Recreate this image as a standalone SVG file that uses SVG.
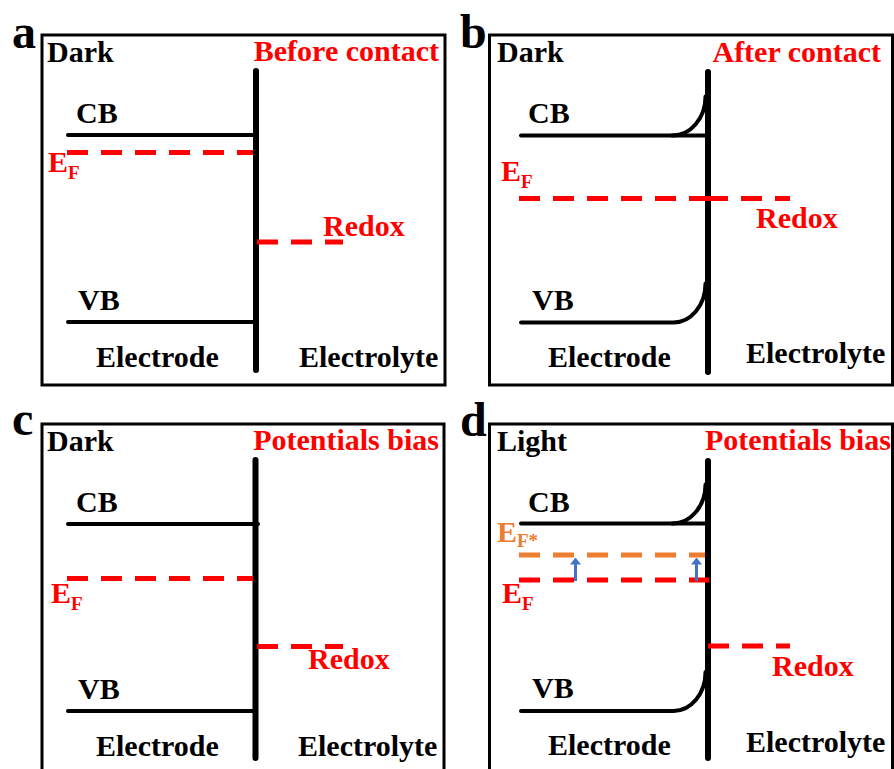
<svg xmlns="http://www.w3.org/2000/svg" width="894" height="769" viewBox="0 0 894 769">
<style>
text{font-weight:bold}
.lbl{font-size:48px;fill:#000}
.t{font-size:30px;fill:#000}
.r{font-size:30px;fill:#FF0000}
.o{font-size:30px;fill:#ED7D31}
.sub{font-size:19px}
.box{fill:none;stroke:#000;stroke-width:3}
.wall{stroke:#000;stroke-width:6;stroke-linecap:round;fill:none}
.band{stroke:#000;stroke-width:4;stroke-linecap:round;fill:none}
.ef{stroke:#FF0000;stroke-width:5;stroke-dasharray:21 13;fill:none}
.efo{stroke:#ED7D31;stroke-width:5;stroke-dasharray:21 13;fill:none}
.arr{stroke:#4472C4;stroke-width:3;fill:none}
</style>
<defs>
<marker id="ah" viewBox="0 0 7 11" refX="0.5" refY="5.5" markerWidth="7" markerHeight="11" orient="auto" markerUnits="userSpaceOnUse">
<path d="M0,0 L7,5.5 L0,11 Z" fill="#4472C4"/>
</marker>
</defs>
<rect width="894" height="769" fill="#fff"/>
<g font-family="'Liberation Serif', 'Times New Roman', serif">
<g id="panel-a">
<text class="lbl" x="12" y="48">a</text>
<rect class="box" x="42" y="35" width="403" height="350"/>
<text class="t" x="47" y="62">Dark</text>
<text class="r" x="439" y="61" text-anchor="end">Before contact</text>
<line class="band" x1="68" y1="135" x2="256" y2="135"/>
<line class="band" x1="68" y1="322" x2="256" y2="322"/>
<line class="wall" x1="256" y1="71" x2="256" y2="370"/>
<text class="t" x="76" y="123">CB</text>
<text class="t" x="78" y="310">VB</text>
<line class="ef" x1="67" y1="152.5" x2="253" y2="152.5"/>
<line class="ef" x1="257" y1="242" x2="343" y2="242"/>
<text class="r" x="48" y="172">E<tspan class="sub" dy="7">F</tspan></text>
<text class="r" x="323" y="236">Redox</text>
<text class="t" x="96" y="367">Electrode</text>
<text class="t" x="299" y="367">Electrolyte</text>
</g>

<g id="panel-b">
<text class="lbl" x="460" y="48">b</text>
<rect class="box" x="489.5" y="35" width="403" height="350"/>
<text class="t" x="497" y="62">Dark</text>
<text class="r" x="881" y="62" text-anchor="end">After contact</text>
<line class="band" x1="521" y1="135.5" x2="708" y2="135.5"/>
<path class="band" d="M672,135.5 A33 39 0 0 0 705.5,96.5"/>
<path class="band" d="M521,322.5 H673 A32 39 0 0 0 705.5,283.5"/>
<line class="wall" x1="708" y1="72" x2="708" y2="372"/>
<text class="t" x="528" y="123">CB</text>
<text class="t" x="532" y="310">VB</text>
<line class="ef" x1="519" y1="198.5" x2="707" y2="198.5"/>
<line class="ef" x1="707" y1="198.5" x2="790" y2="198.5"/>
<text class="r" x="501" y="181">E<tspan class="sub" dy="7">F</tspan></text>
<text class="r" x="756" y="228">Redox</text>
<text class="t" x="548" y="367">Electrode</text>
<text class="t" x="746" y="363">Electrolyte</text>
</g>

<g id="panel-c">
<text class="lbl" x="12" y="435">c</text>
<rect class="box" x="42" y="424" width="402" height="360"/>
<text class="t" x="47" y="451">Dark</text>
<text class="r" x="439" y="450" text-anchor="end">Potentials bias</text>
<line class="band" x1="68" y1="524" x2="258" y2="524"/>
<line class="band" x1="68" y1="711" x2="255" y2="711"/>
<line class="wall" x1="255.5" y1="460" x2="255.5" y2="758"/>
<text class="t" x="76" y="512">CB</text>
<text class="t" x="78" y="699">VB</text>
<line class="ef" x1="67" y1="578.5" x2="253" y2="578.5"/>
<line class="ef" x1="257" y1="646.5" x2="343" y2="646.5"/>
<text class="r" x="51" y="603">E<tspan class="sub" dy="7">F</tspan></text>
<text class="r" x="308" y="669">Redox</text>
<text class="t" x="96" y="756">Electrode</text>
<text class="t" x="298" y="756">Electrolyte</text>
</g>

<g id="panel-d">
<text class="lbl" x="460" y="436">d</text>
<rect class="box" x="489.5" y="424" width="403" height="360"/>
<text class="t" x="497" y="451">Light</text>
<text class="r" x="705" y="450">Potentials bias</text>
<line class="band" x1="521" y1="523.5" x2="708" y2="523.5"/>
<path class="band" d="M672,523.5 A33 39 0 0 0 705.5,484.5"/>
<path class="band" d="M521,711 H673 A32 39 0 0 0 705.5,672"/>
<line class="wall" x1="708" y1="461" x2="708" y2="758"/>
<text class="t" x="528" y="512">CB</text>
<text class="t" x="532" y="698">VB</text>
<line class="efo" x1="519" y1="555" x2="705" y2="555"/>
<line class="ef" x1="519" y1="580" x2="709" y2="580"/>
<text class="o" x="497" y="542">E<tspan class="sub" dy="5">F*</tspan></text>
<text class="r" x="502" y="603">E<tspan class="sub" dy="7">F</tspan></text>
<line class="ef" x1="708" y1="646" x2="790" y2="646"/>
<text class="r" x="772" y="676">Redox</text>
<text class="t" x="548" y="755">Electrode</text>
<text class="t" x="746" y="752">Electrolyte</text>
</g>
</g>
<g id="connectors">
<line class="arr" x1="575.5" y1="581" x2="575.5" y2="564" marker-end="url(#ah)"/>
<line class="arr" x1="696.5" y1="581" x2="696.5" y2="564" marker-end="url(#ah)"/>
</g>
</svg>
